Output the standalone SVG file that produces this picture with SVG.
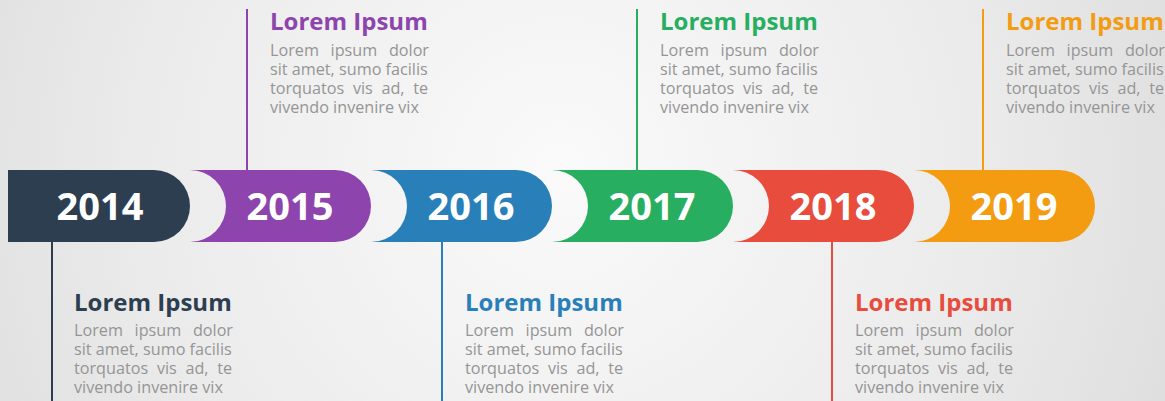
<svg xmlns="http://www.w3.org/2000/svg" width="1165" height="401" viewBox="0 0 1165 401">
<defs>
<radialGradient id="bg" cx="560" cy="170" r="700" gradientUnits="userSpaceOnUse">
<stop offset="0" stop-color="#fafafa"/>
<stop offset="0.6" stop-color="#ebebeb"/>
<stop offset="1" stop-color="#dcdcdc"/>
</radialGradient>
<style>
.yr{font-family:"Open Sans","Liberation Sans",sans-serif;font-weight:bold;font-size:38px;fill:#fff;text-anchor:middle}
.tt{font-family:"Open Sans","Liberation Sans",sans-serif;font-weight:bold;font-size:24px}
.bd{font-family:"Open Sans","Liberation Sans",sans-serif;font-size:16.2px;fill:#959595}
.j1{word-spacing:7.5px}
.j3{word-spacing:4.5px}
.ln{stroke-width:2;fill:none}
</style>
</defs>
<rect width="1165" height="401" fill="url(#bg)"/>
<g id="connectors">
<line class="ln" x1="52" y1="242" x2="52" y2="401" stroke="#2c3e50"/>
<line class="ln" x1="247" y1="9" x2="247" y2="170" stroke="#8e44ad"/>
<line class="ln" x1="442" y1="242" x2="442" y2="401" stroke="#2980b9"/>
<line class="ln" x1="637" y1="9" x2="637" y2="170" stroke="#27ae60"/>
<line class="ln" x1="832" y1="242" x2="832" y2="401" stroke="#e74c3c"/>
<line class="ln" x1="983" y1="9" x2="983" y2="170" stroke="#f39c12"/>
</g>
<g id="y2014">
<path d="M8,170 H154 A36,36 0 0 1 154,242 H8 Z" fill="#2c3e50"/>
<text class="yr" x="100" y="220">2014</text>
</g>
<g id="y2015">
<path d="M190,170 H335 A36,36 0 0 1 335,242 H190 A36,36 0 0 0 190,170 Z" fill="#8e44ad"/>
<text class="yr" x="290" y="220">2015</text>
</g>
<g id="y2016">
<path d="M371,170 H516 A36,36 0 0 1 516,242 H371 A36,36 0 0 0 371,170 Z" fill="#2980b9"/>
<text class="yr" x="471" y="220">2016</text>
</g>
<g id="y2017">
<path d="M552,170 H697 A36,36 0 0 1 697,242 H552 A36,36 0 0 0 552,170 Z" fill="#27ae60"/>
<text class="yr" x="652" y="220">2017</text>
</g>
<g id="y2018">
<path d="M733,170 H878 A36,36 0 0 1 878,242 H733 A36,36 0 0 0 733,170 Z" fill="#e74c3c"/>
<text class="yr" x="833" y="220">2018</text>
</g>
<g id="y2019">
<path d="M914,170 H1059 A36,36 0 0 1 1059,242 H914 A36,36 0 0 0 914,170 Z" fill="#f39c12"/>
<text class="yr" x="1014" y="220">2019</text>
</g>
<g id="note2015">
<text class="tt" x="270" y="30" fill="#8e44ad">Lorem Ipsum</text>
<text class="bd j1" x="270" y="56">Lorem ipsum dolor</text>
<text class="bd" x="270" y="75">sit amet, sumo facilis</text>
<text class="bd j3" x="270" y="94">torquatos vis ad, te</text>
<text class="bd" x="270" y="113">vivendo invenire vix</text>
</g>
<g id="note2017">
<text class="tt" x="660" y="30" fill="#27ae60">Lorem Ipsum</text>
<text class="bd j1" x="660" y="56">Lorem ipsum dolor</text>
<text class="bd" x="660" y="75">sit amet, sumo facilis</text>
<text class="bd j3" x="660" y="94">torquatos vis ad, te</text>
<text class="bd" x="660" y="113">vivendo invenire vix</text>
</g>
<g id="note2019">
<text class="tt" x="1006" y="30" fill="#f39c12">Lorem Ipsum</text>
<text class="bd j1" x="1006" y="56">Lorem ipsum dolor</text>
<text class="bd" x="1006" y="75">sit amet, sumo facilis</text>
<text class="bd j3" x="1006" y="94">torquatos vis ad, te</text>
<text class="bd" x="1006" y="113">vivendo invenire vix</text>
</g>
<g id="note2014">
<text class="tt" x="74" y="311" fill="#2c3e50">Lorem Ipsum</text>
<text class="bd j1" x="74" y="336">Lorem ipsum dolor</text>
<text class="bd" x="74" y="355">sit amet, sumo facilis</text>
<text class="bd j3" x="74" y="374">torquatos vis ad, te</text>
<text class="bd" x="74" y="393">vivendo invenire vix</text>
</g>
<g id="note2016">
<text class="tt" x="465" y="311" fill="#2980b9">Lorem Ipsum</text>
<text class="bd j1" x="465" y="336">Lorem ipsum dolor</text>
<text class="bd" x="465" y="355">sit amet, sumo facilis</text>
<text class="bd j3" x="465" y="374">torquatos vis ad, te</text>
<text class="bd" x="465" y="393">vivendo invenire vix</text>
</g>
<g id="note2018">
<text class="tt" x="855" y="311" fill="#e74c3c">Lorem Ipsum</text>
<text class="bd j1" x="855" y="336">Lorem ipsum dolor</text>
<text class="bd" x="855" y="355">sit amet, sumo facilis</text>
<text class="bd j3" x="855" y="374">torquatos vis ad, te</text>
<text class="bd" x="855" y="393">vivendo invenire vix</text>
</g>
</svg>
